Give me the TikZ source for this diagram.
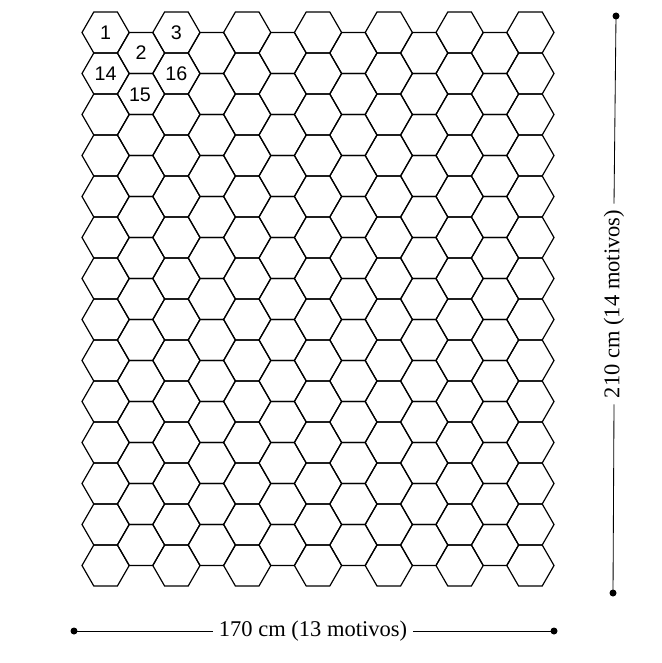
\documentclass[tikz,border=0pt]{standalone}
\usepackage{fontspec}
\setmainfont{Liberation Serif}
\newfontfamily\hexfont{Liberation Sans}
\tikzset{
  hexnum/.style={font=\hexfont\fontsize{14}{16}\selectfont, inner sep=0pt},
  dimtext/.style={font=\fontsize{16}{18}\selectfont, inner sep=4pt},
  dimline/.style={line width=0.6pt}
}
\begin{document}
\begin{tikzpicture}[x=0.025cm, y=-0.025cm, line width=0.85pt]
  \useasboundingbox (0,0) rectangle (662,663);
  % the 13 columns of hexagons
  \foreach \k in {0,...,12}{
    \pgfmathsetmacro{\cx}{105.6+35.4*\k}
    \pgfmathtruncatemacro{\odd}{mod(\k,2)}
    \pgfmathtruncatemacro{\last}{13-\odd}
    \foreach \j in {0,...,\last}{
      \pgfmathsetmacro{\cy}{32.5+20.5*\odd+41*\j}
      \draw (\cx-23.6,\cy) -- (\cx-11.8,\cy-20.5) -- (\cx+11.8,\cy-20.5)
        -- (\cx+23.6,\cy) -- (\cx+11.8,\cy+20.5) -- (\cx-11.8,\cy+20.5) -- cycle;
    }
  }
  \node[hexnum] (n1) at (105.6,32.5) {1};
  \node[hexnum] (n2) at (141,53) {2};
  \node[hexnum] (n3) at (176.4,32.5) {3};
  \node[hexnum] (n14) at (105.6,73.5) {14};
  \node[hexnum] (n15) at (140,95) {15};
  \node[hexnum] (n16) at (176.4,73.5) {16};
  % width
  \coordinate (wl) at (74,631);
  \coordinate (wr) at (554,631);
  \node[dimtext] (wlabel) at (313,631) {170 cm (13 motivos)};
  \draw[dimline] (wl) -- (wlabel.west);
  \draw[dimline] (wlabel.east) -- (wr);
  \fill (wl) circle [radius=3.5];
  \fill (wr) circle [radius=3.5];
  % height
  \coordinate (ht) at (616,16);
  \coordinate (hb) at (613,593);
  \node[dimtext, rotate=90] (hlabel) at (614,304) {210 cm (14 motivos)};
  \draw[dimline] (ht) -- (hlabel.east);
  \draw[dimline] (hlabel.west) -- (hb);
  \fill (ht) circle [radius=3.5];
  \fill (hb) circle [radius=3.5];
\end{tikzpicture}
\end{document}
